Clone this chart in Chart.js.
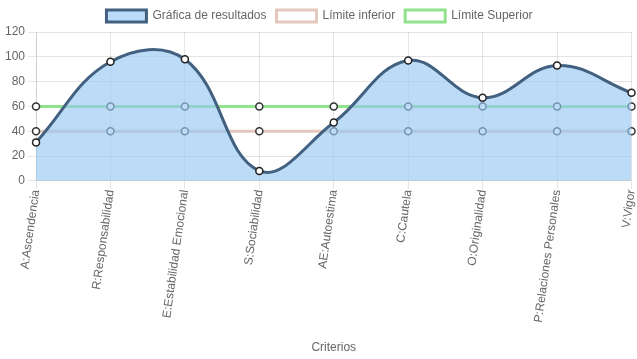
<!DOCTYPE html>
<html>
<head>
<meta charset="utf-8">
<script src="https://cdn.jsdelivr.net/npm/chart.js@4/dist/chart.umd.min.js"></script>
<style>
  html, body { margin: 0; padding: 0; background: #fff; }
  #wrap { width: 637px; height: 359px; }
</style>
</head>
<body>
<div id="wrap"><canvas id="resultsChart"></canvas></div>
<script>
const categories = ['A:Ascendencia', 'R:Responsabilidad', 'E:Estabilidad Emocional', 'S:Sociabilidad',
    'AE:Autoestima', 'C:Cautela', 'O:Originalidad', 'P:Relaciones Personales', 'V:Vigor'];
const resultados = [31, 96, 98, 8, 47, 97, 67, 93, 71];
const limiteInferior = [40, 40, 40, 40, 40, 40, 40, 40, 40];
const limiteSuperior = [60, 60, 60, 60, 60, 60, 60, 60, 60];

Chart.defaults.font.family = 'Arial, "Liberation Sans", sans-serif';
Chart.defaults.font.size = 12;
Chart.defaults.color = '#666';

new Chart(document.getElementById('resultsChart'), {
    type: 'line',
    data: {
        labels: categories,
        datasets: [{
            label: 'Gráfica de resultados',
            data: resultados,
            borderColor: '#42607f',
            backgroundColor: 'rgba(150, 200, 242, 0.65)',
            borderWidth: 3,
            tension: 0.4,
            fill: true,
            pointBackgroundColor: '#fff',
            pointBorderColor: '#222',
            pointBorderWidth: 1.5,
            pointRadius: 3.5
        }, {
            label: 'Límite inferior',
            data: limiteInferior,
            borderColor: '#e3c9bd',
            backgroundColor: '#fff',
            borderWidth: 3,
            fill: false,
            pointBackgroundColor: '#fff',
            pointBorderColor: '#333',
            pointBorderWidth: 1.5,
            pointRadius: 3.5
        }, {
            label: 'Límite Superior',
            data: limiteSuperior,
            borderColor: '#8fe38a',
            backgroundColor: '#fff',
            borderWidth: 3,
            fill: false,
            pointBackgroundColor: '#fff',
            pointBorderColor: '#333',
            pointBorderWidth: 1.5,
            pointRadius: 3.5
        }]
    },
    options: {
        responsive: true,
        maintainAspectRatio: false,
        animation: false,
        layout: { padding: { left: 2 } },
        plugins: {
            legend: {
                position: 'top'
            }
        },
        scales: {
            y: {
                min: 0,
                max: 120,
                ticks: { stepSize: 20 },
                grid: { color: 'rgba(0, 0, 0, 0.1)' }
            },
            x: {
                offset: false,
                ticks: { maxRotation: 82, minRotation: 82, padding: 0 },
                grid: { color: 'rgba(0, 0, 0, 0.1)' },
                title: { display: true, text: 'Criterios', padding: { top: 17, bottom: 4 } },
                afterFit: function (scale) {
                    // let the last rotated label run to the edge like the original
                    scale.paddingRight = 2;
                }
            }
        }
    }
});
</script>
</body>
</html>
